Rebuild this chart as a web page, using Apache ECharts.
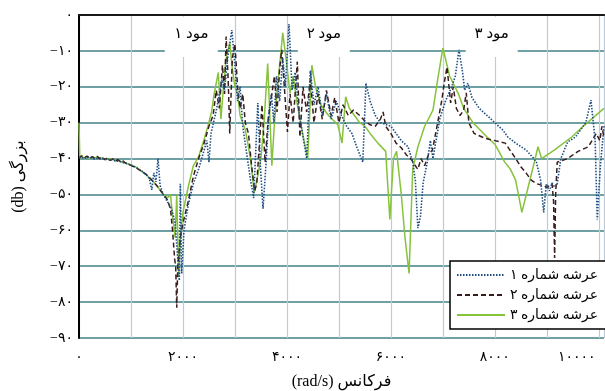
<!DOCTYPE html>
<html>
<head>
<meta charset="utf-8">
<script src="https://cdn.jsdelivr.net/npm/echarts@6/dist/echarts.min.js"></script>
<style>
html,body{margin:0;padding:0;background:#fff;}
#main{width:605px;height:391px;}
</style>
</head>
<body>
<div id="main"></div>
<script>
// tick labels (Persian digits)
var xTickText = {0:'۰', 2000:'۲۰۰۰', 4000:'۴۰۰۰', 6000:'۶۰۰۰', 8000:'۸۰۰۰', 10000:'۱۰۰۰۰'};
var yTickText = {0:'۰', '-10':'−۱۰', '-20':'−۲۰', '-30':'−۳۰', '-40':'−۴۰', '-50':'−۵۰', '-60':'−۶۰', '-70':'−۷۰', '-80':'−۸۰', '-90':'−۹۰'};

var seriesNames = ['عرشه شماره ۱', 'عرشه شماره ۲', 'عرشه شماره ۳'];
var modeNames = ['مود ۱', 'مود ۲', 'مود ۳'];
// mode bands [from, to] in rad/s
var modeBands = [[1650, 2670], [4210, 5210], [7440, 8440]];

// [frequency rad/s, magnitude db]
var arm1 = [
[0,-39.6],[100,-39.9],[200,-39.5],[300,-40.1],[400,-39.8],[500,-40.2],[600,-40.3],[700,-40.6],[800,-40.9],[900,-41.3],[1000,-41.8],[1100,-42.5],[1200,-43.4],[1300,-44.6],[1350,-45.5],[1400,-48.7],[1440,-44],[1480,-46.5],[1520,-40],[1560,-47.5],[1620,-50],[1700,-52],[1780,-54],[1850,-58],[1900,-68],[1930,-74],[1950,-47],[1975,-72],[2020,-60],[2100,-53],[2200,-47],[2300,-43],[2400,-38],[2460,-35],[2500,-41],[2540,-33],[2650,-26],[2750,-18],[2800,-21],[2860,-12],[2940,-4.2],[3000,-14],[3050,-24],[3100,-20],[3150,-31],[3220,-38],[3300,-46],[3360,-51],[3400,-38],[3440,-24.5],[3490,-42],[3540,-54],[3600,-41],[3650,-28],[3700,-22],[3750,-30],[3800,-17],[3860,-24],[3920,-12],[3970,-20],[4040,-2.5],[4100,-21],[4160,-16],[4230,-27],[4300,-33],[4380,-40],[4450,-15.5],[4520,-25],[4600,-20],[4680,-28],[4760,-22],[4850,-29],[4950,-24],[5050,-28],[5150,-31],[5250,-33],[5350,-37],[5460,-41],[5520,-19],[5600,-24],[5700,-28],[5800,-30],[5900,-30.5],[6000,-31],[6100,-33],[6200,-35],[6330,-36.7],[6420,-41],[6470,-46],[6520,-59.4],[6570,-56],[6620,-46.8],[6700,-41],[6760,-35],[6810,-40],[6940,-29],[7050,-24],[7170,-20],[7240,-17],[7310,-9.7],[7380,-16],[7420,-21],[7480,-19],[7560,-23],[7700,-26],[7850,-28],[8000,-30],[8150,-32],[8250,-34],[8400,-35.7],[8600,-37.6],[8750,-40],[8800,-41],[8880,-46],[8940,-55],[8990,-47],[9050,-49],[9100,-46.8],[9150,-48],[9200,-47],[9270,-40],[9400,-35.4],[9550,-34],[9650,-32],[9750,-30],[9850,-23.7],[9930,-35],[9970,-57],[10030,-42],[10100,-31]
];
var arm2 = [
[0,-40],[50,-39.2],[100,-39.9],[150,-39.3],[200,-40.1],[250,-39.5],[300,-39.9],[350,-39.4],[400,-40.1],[450,-39.7],[500,-40.3],[550,-39.8],[600,-40.5],[650,-40.1],[700,-40.7],[750,-40.3],[800,-41],[850,-40.7],[900,-41.3],[1000,-41.9],[1100,-42.6],[1200,-43.5],[1300,-44.5],[1400,-46],[1500,-47.6],[1600,-49.5],[1700,-51.5],[1760,-54],[1800,-60],[1840,-68],[1860,-70],[1880,-81.6],[1900,-70],[1950,-62],[2000,-58],[2100,-52],[2200,-45],[2300,-40],[2400,-36],[2500,-31],[2580,-28],[2640,-21],[2700,-26],[2760,-14],[2800,-22],[2830,-6],[2870,-18],[2900,-33],[2950,-12],[3000,-8],[3050,-20],[3100,-26],[3150,-22],[3200,-30],[3260,-33],[3320,-42],[3380,-49],[3420,-47],[3470,-36],[3520,-25],[3580,-41],[3640,-29],[3700,-23],[3760,-17],[3810,-27],[3860,-15],[3900,-9.7],[3950,-20],[4010,-32.6],[4060,-22],[4120,-30],[4200,-13],[4250,-34],[4310,-20],[4380,-27],[4450,-18],[4520,-30],[4600,-22],[4680,-29],[4760,-21],[4850,-28],[4920,-23],[5000,-30],[5080,-25],[5180,-28],[5280,-26.5],[5400,-28],[5500,-29.5],[5600,-30.6],[5700,-31],[5800,-29],[5850,-27],[5900,-31],[6000,-33],[6100,-35.7],[6200,-37],[6300,-39],[6400,-40.4],[6470,-42],[6520,-43],[6580,-40],[6650,-42],[6720,-39],[6800,-37.6],[6900,-30],[6980,-23.7],[7030,-18.6],[7080,-14.5],[7150,-24.5],[7200,-20],[7260,-26],[7330,-28],[7400,-26.5],[7450,-21.7],[7500,-30],[7600,-33],[7800,-34.3],[8000,-35],[8200,-35.7],[8400,-40],[8500,-42.3],[8600,-44],[8700,-46],[8800,-47],[8900,-47.4],[9000,-48],[9100,-47],[9130,-52],[9150,-67.7],[9170,-50],[9200,-41],[9400,-40],[9600,-38],[9800,-36.7],[9950,-33],[10020,-35],[10060,-31],[10100,-34]
];
var arm3 = [
[0,-30],[15,-40],[60,-39.4],[100,-39.9],[160,-39.4],[200,-40],[260,-39.5],[300,-39.8],[360,-39.5],[400,-40],[460,-39.8],[500,-40.3],[560,-40],[600,-40.2],[660,-40.2],[700,-40.7],[760,-40.4],[800,-40.8],[900,-41.3],[1000,-41.8],[1100,-42.4],[1200,-43.5],[1300,-44.6],[1400,-46],[1500,-47.6],[1600,-49.6],[1700,-51],[1760,-50],[1800,-56],[1850,-62],[1880,-50],[1920,-73],[1950,-62],[2000,-55],[2100,-48],[2200,-42],[2300,-39.5],[2400,-35],[2480,-31],[2550,-27],[2600,-22],[2680,-16],[2730,-29],[2780,-20],[2830,-12],[2900,-7.8],[2950,-15],[3000,-20],[3050,-22],[3100,-28],[3200,-32],[3300,-40],[3370,-49.6],[3400,-50],[3450,-44],[3500,-40],[3560,-30],[3630,-13.5],[3710,-42],[3760,-30],[3820,-20],[3920,-5],[3990,-13],[4060,-21.8],[4120,-17],[4200,-25],[4300,-33],[4400,-40],[4480,-14],[4550,-20],[4650,-25],[4800,-28],[4980,-30.6],[5060,-35.7],[5130,-22.8],[5200,-26],[5300,-28],[5400,-30],[5500,-31],[5600,-33],[5750,-35.7],[5900,-38],[5980,-57],[6050,-40],[6110,-38],[6200,-50],[6270,-61.8],[6350,-72],[6420,-43],[6520,-36.7],[6650,-31],[6810,-26.5],[6900,-18],[7000,-9.2],[7130,-17],[7300,-22],[7400,-26],[7580,-30],[7850,-34],[8000,-36],[8190,-41],[8300,-43],[8400,-46],[8520,-55],[8640,-48],[8770,-40.4],[8830,-36.7],[8900,-40],[9150,-37.6],[9480,-34],[9730,-30.6],[10060,-26.5],[10100,-26]
];

var font = 'Liberation Serif, DejaVu Sans, serif';
var myChart = echarts.init(document.getElementById('main'));

var bands = modeBands.map(function (b, i) {
    return [{xAxis: b[0], yAxis: -0.5, name: modeNames[i]}, {xAxis: b[1], yAxis: -11.7}];
});

option = {
    animation: false,
    grid: {left: 79, right: 1, top: 15, bottom: 53, outerBoundsMode: 'none', containLabel: false},
    legend: {
        orient: 'vertical',
        left: 450, top: 261,
        padding: [7, 60, 7, 6],
        itemGap: 6,
        itemWidth: 48, itemHeight: 14,
        backgroundColor: '#fff',
        borderColor: '#000', borderWidth: 1.5, borderRadius: 0,
        itemStyle: {opacity: 0},
        textStyle: {fontSize: 14, color: '#000', fontFamily: font},
        data: seriesNames
    },
    xAxis: [{
        type: 'value', min: 0, max: 10100, interval: 1000,
        name: '(rad/s) فرکانس', nameLocation: 'middle', nameGap: 36,
        nameTextStyle: {fontSize: 16, color: '#000', fontFamily: font},
        axisLine: {lineStyle: {color: '#000', width: 2}},
        axisTick: {show: false},
        axisLabel: {
            color: '#000', fontSize: 14, fontFamily: font, margin: 12,
            formatter: function (v) {
                if (v === 10000) return '{e|' + xTickText[v] + '}';
                return xTickText[v] || '';
            },
            rich: {e: {color: '#000', fontSize: 14, fontFamily: font, padding: [0, 44, 0, 0]}}
        },
        splitLine: {lineStyle: {color: '#bccbd6', width: 1.2}}
    }, {
        type: 'value', position: 'top', min: 0, max: 10100,
        axisLine: {show: true, lineStyle: {color: '#222', width: 1.5}},
        axisTick: {show: false}, axisLabel: {show: false}, splitLine: {show: false}
    }],
    yAxis: {
        type: 'value', min: -90, max: 0, interval: 10,
        name: '(db) بزرگی', nameLocation: 'middle', nameGap: 52, nameRotate: 90,
        nameTextStyle: {fontSize: 16, color: '#000', fontFamily: font},
        axisLine: {show: true, lineStyle: {color: '#000', width: 2}},
        axisTick: {show: false},
        axisLabel: {
            color: '#000', fontSize: 14, fontFamily: font, margin: 6,
            formatter: function (v) { return yTickText[v]; }
        },
        splitLine: {lineStyle: {color: '#3f8086', width: 1.5}}
    },
    series: [{
        name: 'bands', type: 'line', data: [], z: 1, silent: true,
        markArea: {
            silent: true,
            itemStyle: {color: '#fff'},
            label: {show: true, position: 'inside', offset: [0, -3], color: '#000', fontSize: 15, fontFamily: font},
            data: bands
        }
    }, {
        name: seriesNames[0], type: 'line', data: arm1, z: 4,
        symbol: 'none', color: '#1d4d82',
        lineStyle: {width: 1.6, type: [1.5, 1.5], color: '#1d4d82'}
    }, {
        name: seriesNames[1], type: 'line', data: arm2, z: 3,
        symbol: 'none', color: '#3a1c1c',
        lineStyle: {width: 1.5, type: [5, 3], color: '#3a1c1c'}
    }, {
        name: seriesNames[2], type: 'line', data: arm3, z: 2,
        symbol: 'none', color: '#86c23c',
        lineStyle: {width: 1.5, color: '#86c23c'}
    }]
};
myChart.setOption(option);
</script>
</body>
</html>
